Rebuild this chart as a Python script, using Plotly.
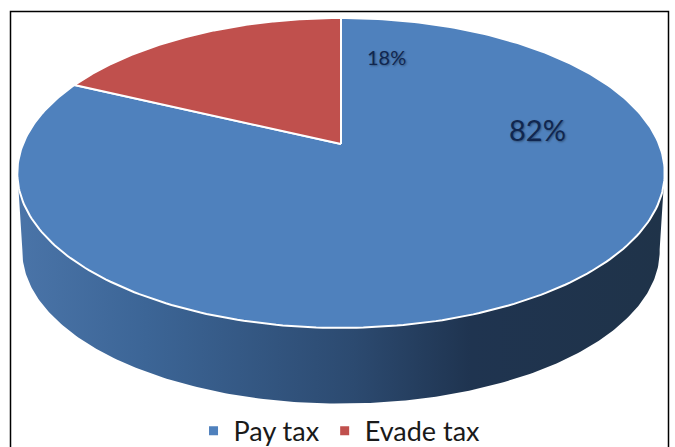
import numpy as np
import plotly.graph_objects as go

categories = ["Pay tax", "Evade tax"]
shares = [82, 18]
slice_colors = ["#4f81bd", "#c0504d"]
label_sizes = [29, 20]
label_anchor_x = [537, 386]
label_anchor_y = [129, 57]

# Tilted-disc projection, in page pixels
CX, APEX_Y, A, B, C = 341.0, 144.0, 318.0, -122.6, 0.187
DEPTH, BASE_SCALE = 79.0, 0.985


def project(theta, scale=1.0, drop=0.0):
    """Map clock angles on the unit disc (0 = 12 o'clock, clockwise) to the page."""
    x_u, y_u = np.sin(theta) * scale, np.cos(theta) * scale
    w = 1 + C * y_u
    return CX + A * x_u / w, (B * y_u + APEX_Y) / w + drop


fig = go.Figure()

# Rim of the disc: front half of the top outline joined to the base outline
front = np.linspace(np.radians(100), np.radians(260), 240)
top_x, top_y = project(front)
base_x, base_y = project(front[::-1], BASE_SCALE, DEPTH)
fig.add_trace(go.Scatter(
    x=np.r_[top_x, base_x], y=np.r_[top_y, base_y],
    mode="lines", line=dict(width=0), fill="toself",
    fillgradient=dict(type="horizontal", colorscale=[
        [0.0, "#4a74a8"], [0.2, "#3c6596"], [0.52, "#2c4a70"],
        [0.7, "#1f3450"], [1.0, "#1f3349"],
    ]),
    showlegend=False, hoverinfo="skip",
))

# Top face: one wedge per category, clockwise from 12 o'clock
fractions = np.array(shares) / sum(shares)
edges = np.r_[0, np.cumsum(fractions)] * 2 * np.pi
for i, name in enumerate(categories):
    arc = np.linspace(edges[i], edges[i + 1], 300)
    arc_x, arc_y = project(arc)
    fig.add_trace(go.Scatter(
        x=np.r_[CX, arc_x, CX], y=np.r_[APEX_Y, arc_y, APEX_Y],
        mode="lines", line=dict(color="white", width=2),
        fill="toself", fillcolor=slice_colors[i],
        showlegend=False, hoverinfo="skip",
    ))

# Legend keys
for name, color in zip(categories, slice_colors):
    fig.add_trace(go.Scatter(
        x=[None], y=[None], mode="markers", name=name,
        marker=dict(symbol="square", size=9, color=color),
    ))

for share, size, lx, ly in zip(shares, label_sizes, label_anchor_x, label_anchor_y):
    fig.add_annotation(
        x=lx, y=ly, text=f"{share}%", showarrow=False,
        font=dict(family="Lato", size=size, color="#10264f",
                  shadow="1px 1px 2px rgba(0,0,0,0.35)"),
    )

fig.update_layout(
    width=675, height=447,
    margin=dict(l=0, r=0, t=0, b=0, autoexpand=False),
    paper_bgcolor="white", plot_bgcolor="white",
    xaxis=dict(range=[0, 675], visible=False, fixedrange=True),
    yaxis=dict(range=[447, 0], visible=False, fixedrange=True),
    legend=dict(
        orientation="h", x=0.503, y=0.09, xanchor="center", yanchor="top",
        font=dict(family="Lato", size=27, color="#1a1a1a"),
        bgcolor="rgba(0,0,0,0)",
    ),
    shapes=[dict(
        type="rect", xref="x", yref="y", x0=10.5, x1=668.5, y0=11.5, y1=460,
        line=dict(color="black", width=1.5), layer="below",
    )],
)

fig.write_html("out.html", config=dict(displayModeBar=False))
